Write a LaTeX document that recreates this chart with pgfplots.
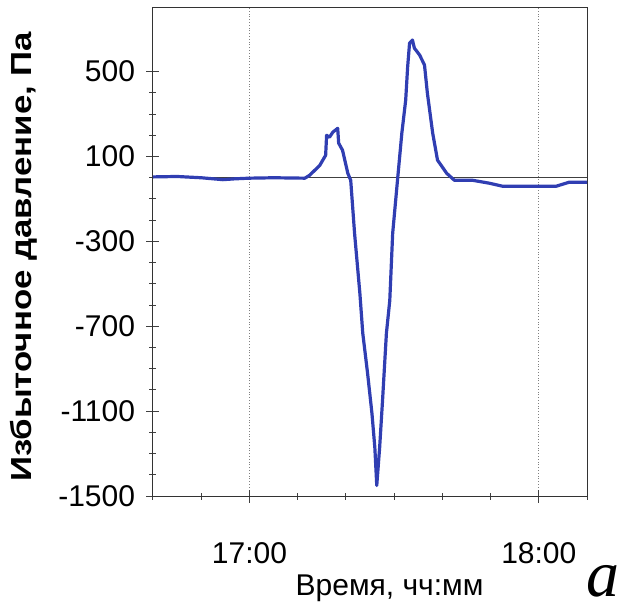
\documentclass[border=0pt]{standalone}
\usepackage{pgfplots}
\pgfplotsset{compat=1.18}
\usepackage{fontspec}
\setmainfont{Liberation Sans}
\newfontfamily\serifit{Liberation Serif}
\definecolor{curve}{RGB}{48,62,178}

\begin{document}
\begin{tikzpicture}
\begin{axis}[
  width=217pt, height=244pt, scale only axis,
  xmin=40, xmax=130, ymin=-1500, ymax=800,
  axis line style={black!80, line width=0.5pt},
  xtick={60,120}, xticklabels={17:00,18:00},
  minor xtick={40,50,...,130},
  ytick={-1500,-1100,-700,-300,100,500},
  yticklabels={-1500,-1100,-700,-300,100,500},
  minor y tick num=3,
  tick align=center, xtick pos=bottom, ytick pos=left,
  major tick length=6.5pt, minor tick length=3.5pt,
  tick style={black!75, line width=0.5pt},
  xmajorgrids, major grid style={gray, densely dotted, line width=0.5pt},
  ticklabel style={font=\fontsize{15}{18}\selectfont},
  yticklabel style={anchor=east, xshift=-2.2pt},
  xticklabel style={anchor=base, yshift=-30.5pt},
  clip=false]
\coordinate (bl) at (rel axis cs:-0.3525,-0.2234);
\coordinate (tr) at (rel axis cs:1.0783,1.0164);
% zero reference line
\addplot[black!75, line width=0.5pt] coordinates {(40,0) (130,0)};
% pressure record (minutes after 16:00, Pa)
\addplot[curve, line width=1.6pt, line join=round] coordinates {
(40,4) (45,6) (50,0) (54.5,-9) (57,-5) (60,-2) (65,0) (71.5,-2)
(72.5,12) (74.6,59) (75.8,106) (76.0,200) (76.6,191) (77.3,215) (78.3,233)
(78.5,163) (79.3,130) (80.4,21) (81.0,-12) (81.8,-262) (82.9,-545)
(83.5,-733) (84.5,-922) (85.4,-1110) (86.0,-1271) (86.4,-1450)
(87.0,-1271) (87.6,-1049) (88.4,-733) (89.1,-578) (89.7,-262) (90.7,-12)
(91.6,210) (92.4,366) (92.8,521) (93.2,634) (93.8,649) (94.2,611)
(95.3,578) (96.3,531) (96.9,398) (98.0,210) (99.0,83) (100.9,21)
(102.5,-12) (106.3,-12) (109.8,-26) (112.5,-40) (123.6,-40) (126.3,-21) (130,-21)
};
\node[font=\bfseries\fontsize{14.5}{18}\selectfont, rotate=90] at (rel axis cs:-0.297,0.49) {\scalebox{1.2}[1]{Избыточное давление, Па}};
\node[font=\fontsize{15}{18}\selectfont, anchor=base] at (rel axis cs:0.545,-0.203) {Время, чч:мм};
\node[font=\serifit\itshape\fontsize{33}{36}\selectfont, anchor=base, inner sep=0pt] at (rel axis cs:1.036,-0.206) {a};
\end{axis}
\pgfresetboundingbox
\useasboundingbox (bl) rectangle (tr);
\end{tikzpicture}
\end{document}
